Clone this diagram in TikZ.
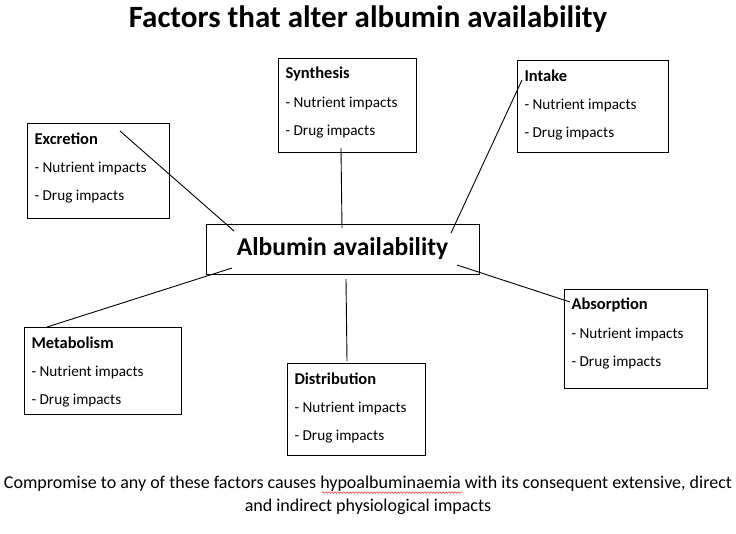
\documentclass[tikz,border=0pt]{standalone}
\usepackage{fontspec}
\setmainfont{Carlito}
\usetikzlibrary{decorations.pathmorphing}
\begin{document}
\begin{tikzpicture}[x=1pt,y=-1pt,
  box/.style={draw,line width=0.7pt},
  ttl/.style={anchor=west,font=\fontsize{16.5}{19}\selectfont\bfseries},
  itm/.style={anchor=west,font=\fontsize{15.2}{18}\selectfont},
  con/.style={line width=0.9pt}]
\useasboundingbox (0,0) rectangle (736,533);
\node[font=\fontsize{31}{36}\selectfont\bfseries] (title) at (368,19) {Factors that alter albumin availability};
\newcommand{\factorbox}[6]{%
  \draw[box] (#2,#3) rectangle (#4,#5);
  \node[ttl] (#1t) at (#2+4,#3+16) {#6};
  \node[itm] (#1a) at (#2+4,#3+45) {- Nutrient impacts};
  \node[itm] (#1b) at (#2+4,#3+74) {- Drug impacts};}
\factorbox{syn}{278}{58}{416}{152}{Synthesis}
\factorbox{int}{517}{60}{668}{152}{Intake}
\factorbox{exc}{27}{123}{169}{218}{Excretion}
\factorbox{met}{24}{327}{181}{414}{Metabolism}
\factorbox{dis}{287}{363}{425}{455}{Distribution}
\factorbox{abs}{564}{289}{707}{388}{Absorption}
\node[box,minimum width=273pt,minimum height=50pt,font=\fontsize{25.6}{30}\selectfont\bfseries] (alb) at (342.5,249) {Albumin availability};
\coordinate (c1) at (120,131); \coordinate (c1b) at (234,231);
\coordinate (c2) at (341,148); \coordinate (c2b) at (342,228);
\coordinate (c3) at (522,80);  \coordinate (c3b) at (451,233);
\coordinate (c4) at (570,302); \coordinate (c4b) at (457,265);
\coordinate (c5) at (47,327);  \coordinate (c5b) at (232,268);
\coordinate (c6) at (347,361); \coordinate (c6b) at (346,279);
\foreach \a/\b in {c1/c1b,c2/c2b,c3/c3b,c4/c4b,c5/c5b,c6/c6b} \draw[con] (\a)--(\b);
\node[font=\fontsize{18}{23}\selectfont,align=center] (foot) at (368,495) {Compromise to any of these factors causes hypoalbuminaemia with its consequent extensive, direct\\and indirect physiological impacts};
\draw[red,decorate,decoration={snake,amplitude=0.8pt,segment length=3pt}] (322,492.5)--(462,492.5);
\end{tikzpicture}
\end{document}
